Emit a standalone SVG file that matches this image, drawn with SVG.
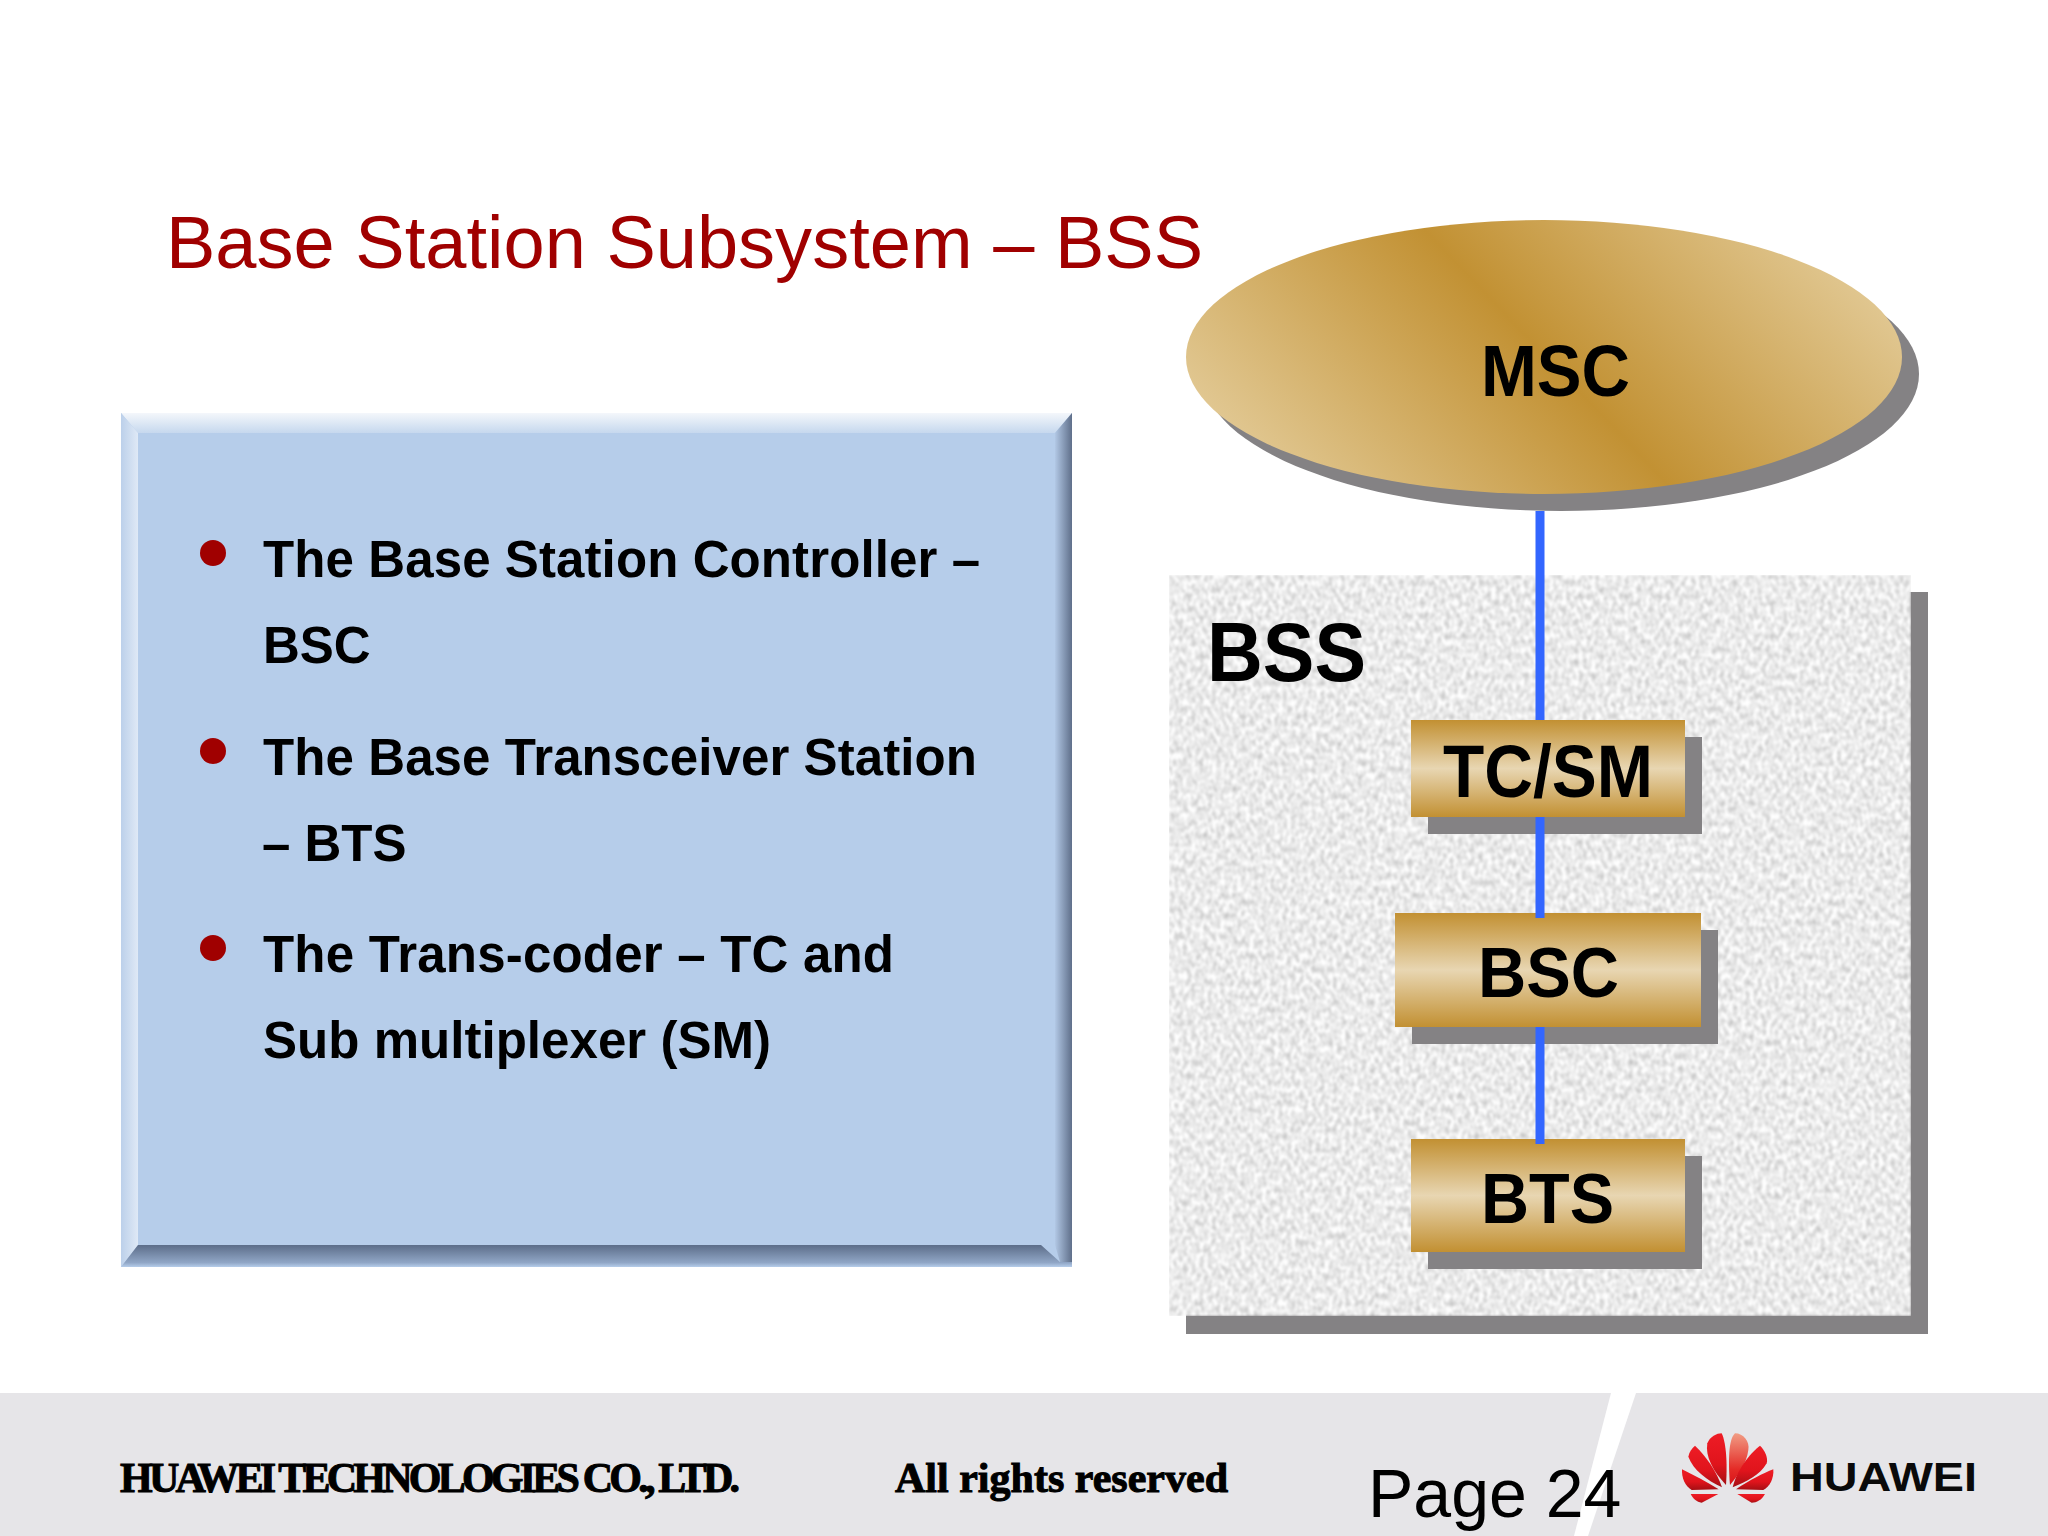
<svg xmlns="http://www.w3.org/2000/svg" width="2048" height="1536" viewBox="0 0 2048 1536">
<style>
text{font-family:"Liberation Sans",Arial,sans-serif}
.h{font-weight:700;fill:#000}
.b{font-weight:700;font-size:51px;fill:#000}
.dot{fill:#A00000}
.sh{fill:#848284}
.box{fill:url(#boxG)}
.ft{font-family:"Liberation Serif","Times New Roman",serif;font-weight:700;font-size:42px;fill:#000;stroke:#000;stroke-width:1}
.line{stroke:#3366FF;stroke-width:9;fill:none}
</style>
<defs>
<linearGradient id="boxG" x1="0" y1="0" x2="0" y2="1"><stop offset="0" stop-color="#C29032"/><stop offset=".5" stop-color="#E8D6B2"/><stop offset="1" stop-color="#C29032"/></linearGradient>
<linearGradient id="ellG" gradientUnits="userSpaceOnUse" x1="1330" y1="564" x2="1762" y2="150"><stop offset="0" stop-color="#E3CB98"/><stop offset=".5" stop-color="#C29133"/><stop offset="1" stop-color="#E3CB98"/></linearGradient>
<linearGradient id="bvT" x1="0" y1="0" x2="0" y2="1"><stop offset="0" stop-color="#F4F7FB"/><stop offset="1" stop-color="#C6D8EE"/></linearGradient>
<linearGradient id="bvL" x1="0" y1="0" x2="1" y2="0"><stop offset="0" stop-color="#BCD0EA"/><stop offset="1" stop-color="#DFE9F6"/></linearGradient>
<linearGradient id="bvR" x1="0" y1="0" x2="1" y2="0"><stop offset="0" stop-color="#B2C8E5"/><stop offset="1" stop-color="#5F6F8A"/></linearGradient>
<linearGradient id="bvB" x1="0" y1="0" x2="0" y2="1"><stop offset="0" stop-color="#5C6D89"/><stop offset=".8" stop-color="#90A6C6"/><stop offset="1" stop-color="#B6CDEA"/></linearGradient>
<linearGradient id="pet" x1="0" y1="0" x2="0" y2="1"><stop offset="0" stop-color="#EE1C25"/><stop offset=".6" stop-color="#E0141C"/><stop offset="1" stop-color="#A50F14"/></linearGradient>
<linearGradient id="petTop" x1="0" y1="0" x2="0" y2="1"><stop offset="0" stop-color="#F19C84"/><stop offset=".7" stop-color="#E42A26"/><stop offset="1" stop-color="#D8141A"/></linearGradient>
<filter id="granite" x="0" y="0" width="100%" height="100%" color-interpolation-filters="sRGB">
<feTurbulence type="fractalNoise" baseFrequency="0.24 0.15" numOctaves="2" seed="7"/>
<feColorMatrix type="matrix" values="0.42 0 0 0 0.71  0.42 0 0 0 0.71  0.42 0 0 0 0.71  0 0 0 0 1"/>
<feGaussianBlur stdDeviation="0.8"/>
</filter>
</defs>
<rect width="2048" height="1536" fill="#FFFFFF"/>
<g id="footer">
<rect x="0" y="1393" width="2048" height="143" fill="#E6E5E8"/>
<polygon points="1611,1393 1636,1393 1588,1536 1574,1536" fill="#FFFFFF"/>
<text class="ft" x="120" y="1492" textLength="620" lengthAdjust="spacing">HUAWEI TECHNOLOGIES CO., LTD.</text>
<text class="ft" x="895" y="1492" textLength="333" lengthAdjust="spacing">All rights reserved</text>
<text x="1368" y="1517" font-size="68" fill="#000">Page 24</text>
</g>
<g id="logo">
<g transform="translate(1650 1400) scale(.3333)">
<path fill="url(#petTop)" d="M240 255C235 180 235 120 255 100C280 100 300 125 295 150C290 190 265 225 240 255Z"/>
<path fill="url(#pet)" d="M228 255C190 215 165 170 172 130C180 110 200 100 215 100C230 130 232 200 228 255Z"/>
<path fill="url(#pet)" d="M248 262C260 210 300 160 330 137C345 150 355 175 350 190C330 225 290 245 248 262Z"/>
<path fill="url(#pet)" d="M216 262C170 240 130 210 115 170C118 155 125 145 135 137C170 170 200 215 216 262Z"/>
<path fill="url(#pet)" d="M258 268C300 240 340 220 370 208C372 235 360 260 340 270Z"/>
<path fill="url(#pet)" d="M206 268C170 245 130 225 96 208C95 235 105 258 125 270Z"/>
<path fill="url(#pet)" d="M262 282L345 282C335 300 320 308 305 308Z"/>
<path fill="url(#pet)" d="M122 282L205 282L155 308C140 306 128 295 122 282Z"/>
</g>
<text x="1790" y="1491" font-size="41" font-weight="700" fill="#0A0A0A" textLength="187" lengthAdjust="spacingAndGlyphs">HUAWEI</text>
</g>
<text id="title" x="166" y="268" font-size="74" fill="#A00000" textLength="1037" lengthAdjust="spacing">Base Station Subsystem – BSS</text>
<g id="info-panel">
<rect x="121" y="413" width="951" height="854" fill="#B6CDEA"/>
<polygon points="121,413 1072,413 1055,433 138,433" fill="url(#bvT)"/>
<polygon points="121,413 138,433 138,1245 121,1267" fill="url(#bvL)"/>
<polygon points="1072,413 1055,433 1055,1245 1060,1262 1072,1262" fill="url(#bvR)"/>
<polygon points="138,1245 1041,1245 1060,1262 1072,1262 1072,1267 121,1267" fill="url(#bvB)"/>
<circle class="dot" cx="213" cy="553" r="13"/>
<text class="b" x="263" y="577" textLength="717" lengthAdjust="spacing">The Base Station Controller –</text>
<text class="b" x="263" y="663">BSC</text>
<circle class="dot" cx="213" cy="751" r="13"/>
<text class="b" x="263" y="774.5" textLength="714" lengthAdjust="spacing">The Base Transceiver Station</text>
<text class="b" x="262" y="860.5">– BTS</text>
<circle class="dot" cx="213" cy="948" r="13"/>
<text class="b" x="263" y="972" textLength="631" lengthAdjust="spacing">The Trans-coder – TC and</text>
<text class="b" x="263" y="1058" textLength="508" lengthAdjust="spacing">Sub multiplexer (SM)</text>
</g>
<g id="bss-panel">
<rect class="sh" x="1186" y="592" width="742" height="742"/>
<rect x="1169" y="575" width="742" height="741" filter="url(#granite)"/>
<text class="h" x="1207" y="681" font-size="84" textLength="159" lengthAdjust="spacingAndGlyphs">BSS</text>
</g>
<g id="msc">
<ellipse class="sh" cx="1561" cy="374" rx="358" ry="137"/>
<ellipse cx="1544" cy="357" rx="358" ry="137" fill="url(#ellG)"/>
<text class="h" x="1481" y="396" font-size="73" textLength="149" lengthAdjust="spacingAndGlyphs">MSC</text>
</g>
<g id="tcsm">
<rect class="sh" x="1428" y="737" width="274" height="97"/>
<rect class="box" x="1411" y="720" width="274" height="97"/>
<text class="h" x="1443" y="797" font-size="74" textLength="210" lengthAdjust="spacingAndGlyphs">TC/SM</text>
</g>
<g id="bsc">
<rect class="sh" x="1412" y="930" width="306" height="114"/>
<rect class="box" x="1395" y="913" width="306" height="114"/>
<text class="h" x="1478" y="997" font-size="70" textLength="141" lengthAdjust="spacingAndGlyphs">BSC</text>
</g>
<g id="bts">
<rect class="sh" x="1428" y="1156" width="274" height="113"/>
<rect class="box" x="1411" y="1139" width="274" height="113"/>
<text class="h" x="1481" y="1223" font-size="70" textLength="133" lengthAdjust="spacingAndGlyphs">BTS</text>
</g>
<g id="connectors">
<line class="line" x1="1540" y1="511" x2="1540" y2="720"/>
<line class="line" x1="1540" y1="817" x2="1540" y2="918"/>
<line class="line" x1="1540" y1="1027" x2="1540" y2="1144"/>
</g>
</svg>
